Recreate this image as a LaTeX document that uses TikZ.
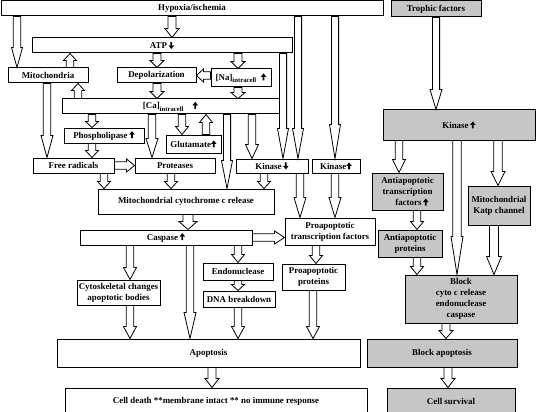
\documentclass[tikz,border=0pt]{standalone}
\usepackage{fontspec}
\setmainfont{Liberation Serif}
\usetikzlibrary{calc}
\definecolor{boxgrey}{RGB}{198,198,198}
\newcommand\uparr{\tikz[baseline=0pt,x=1pt,y=1pt]\fill (-0.9,0)--(-0.9,3.6)--(-2.8,3.4)--(0,7)--(2.8,3.4)--(0.9,3.6)--(0.9,0)--cycle;}
\newcommand\dnarr{\tikz[baseline=0pt,x=1pt,y=1pt]\fill (-0.9,7)--(-0.9,3.4)--(-2.8,3.6)--(0,0)--(2.8,3.6)--(0.9,3.4)--(0.9,7)--cycle;}
\newcommand\subtx[1]{\raisebox{-2.3pt}{\fontsize{6.7}{7}\selectfont #1}}
\tikzset{
  box/.style={draw, line width=1pt, fill=white, inner sep=0pt, align=center,
    font=\fontsize{8.9}{11}\selectfont\bfseries},
  gbox/.style={box, fill=boxgrey},
  barr/.style={draw, line width=0.8pt, fill=white, line join=miter}
}
% \bx[opt]{name}{x1}{y1}{x2}{y2}{text}
\newcommand\bx[7][]{\node[box,#1,minimum width={#5-#3},minimum height={#6-#4}] (#2) at ({(#3+#5)/2},{(#4+#6)/2}) {#7};}
% \barrow{start}{end}{head length}{head half width}{shaft half width}
\newcommand\barrow[5]{%
  \coordinate (baS) at #1; \coordinate (baE) at #2;
  \coordinate (baH) at ($(baE)!#3pt!(baS)$);
  \draw[barr] ($(baS)!#5pt!90:(baE)$) -- ($(baH)!#5pt!-90:(baS)$) -- ($(baH)!#4pt!-90:(baS)$) -- (baE) -- ($(baH)!#4pt!90:(baS)$) -- ($(baH)!#5pt!90:(baS)$) -- ($(baS)!#5pt!-90:(baE)$) -- cycle;}
\begin{document}
\begin{tikzpicture}[x=1pt,y=-1pt]
\useasboundingbox[fill=white] (0,0) rectangle (536,412);
% left column boxes
\bx{hyp}{1}{1}{383}{16}{Hypoxia/ischemia}
\bx{atp}{32}{38}{292}{53}{ATP\,\dnarr}
\bx{mito}{8}{68}{88}{83}{Mitochondria}
\bx{dep}{117}{68}{196}{83}{Depolarization}
\bx{na}{211}{69}{271}{87}{[Na]\subtx{intracell}\ \ \uparr}
\bx{ca}{62}{99}{279}{114}{[Ca]\subtx{intracell}\quad\uparr}
\bx{phos}{64}{128}{144}{143}{Phospholipase\,\uparr}
\bx{glut}{166}{135}{221}{153}{Glutamate\uparr}
\bx{fr}{33}{158}{114}{173}{Free radicals}
\bx{prot}{135}{158}{215}{173}{Proteases}
\bx{kd}{236}{159}{308}{173}{Kinase\,\dnarr}
\bx{ku}{312}{159}{360}{173}{Kinase\uparr}
\bx{mcc}{98}{189}{274}{214}{Mitochondrial cytochrome c release}
\bx{casp}{80}{230}{252}{245}{Caspase\,\uparr}
\bx{ptf}{285}{218}{375}{245}{Proapoptotic\\transcription factors}
\bx{ppro}{282}{264}{345}{290}{Proapoptotic\\proteins}
\bx{cyto}{77}{280}{160}{305}{Cytoskeletal changes\\apoptotic bodies}
\bx{endo}{203}{263}{273}{280}{Endonuclease}
\bx{dna}{203}{291}{275}{307}{DNA breakdown}
\bx{apop}{57}{339}{360}{367}{Apoptosis}
\bx{celld}{65}{388}{367}{414}{Cell death **membrane intact ** no immune response}
% right column boxes
\bx[gbox]{tro}{391}{1}{481}{17}{Trophic factors}
\bx[gbox]{kin}{383}{110}{535}{140}{Kinase\,\uparr}
\bx[gbox]{atf}{372}{173}{443}{210}{Antiapoptotic\\transcription\\\quad factors\,\uparr}
\bx[gbox]{katp}{468}{186}{530}{225}{Mitochondrial\\Katp channel}
\bx[gbox]{aprot}{378}{230}{442}{257}{Antiapoptotic\\proteins}
\bx[gbox]{block}{405}{275}{517}{323}{Block\\cyto c release\\endonuclease\\caspase}
\bx[gbox]{bapop}{367}{339}{517}{367}{Block apoptosis}
\bx[gbox]{csurv}{387}{388}{515}{414}{Cell survival}
% connectors, left
\barrow{(hyp.south -| 17,0)}{(mito.north -| 17,0)}{20}{5.5}{3.8}
\barrow{(hyp.south -| 172,0)}{(atp.north -| 172,0)}{9}{7}{4}
\barrow{(atp.south -| 157,0)}{(dep.north -| 157,0)}{7}{7}{4}
\barrow{(atp.south -| 238,0)}{(na.north -| 238,0)}{7}{7}{4}
\barrow{(mito.north -| 70,0)}{(atp.south -| 70,0)}{7}{6.5}{3.8}
\barrow{(na.west |- dep.east)}{(dep.east)}{7}{6.5}{3.8}
\barrow{(dep.south -| 157,0)}{(ca.north -| 157,0)}{7}{7}{4}
\barrow{(na.south -| 238,0)}{(ca.north -| 238,0)}{6}{7}{4}
\barrow{(ca.north -| 78,0)}{(mito.south -| 78,0)}{7}{6.5}{3.8}
\barrow{(mito.south -| 47,0)}{(fr.north -| 47,0)}{22}{6}{3.8}
\barrow{(ca.south -| 92,0)}{(phos.north -| 92,0)}{6}{6.5}{3.8}
\barrow{(phos.south -| 92,0)}{(fr.north -| 92,0)}{7}{6.5}{3.8}
\barrow{(ca.south -| 152,0)}{(prot.north -| 152,0)}{19}{6}{3.8}
\barrow{(ca.south -| 182,0)}{(glut.north -| 182,0)}{8}{6.5}{3.8}
\barrow{(glut.north -| 206,0)}{(ca.south -| 206,0)}{8}{6.5}{3.8}
\barrow{(ca.south -| 227,0)}{(mcc.north -| 227,0)}{28}{5.5}{3.6}
\barrow{(ca.south -| 252,0)}{(kd.north -| 252,0)}{14}{6.5}{3.8}
\barrow{(atp.south -| 283,0)}{(kd.north -| 283,0)}{30}{5.5}{3.6}
\barrow{(hyp.south -| 298,0)}{(kd.north -| 298,0)}{30}{5.5}{3.6}
\barrow{(hyp.south -| 335,0)}{(ku.north -| 335,0)}{34}{5.5}{3.6}
\barrow{(fr.east)}{(prot.west)}{8}{6.5}{3.8}
\barrow{(fr.south -| 104,0)}{(mcc.north -| 104,0)}{7}{6.5}{3.8}
\barrow{(prot.south -| 171,0)}{(mcc.north -| 171,0)}{7}{6.5}{3.8}
\barrow{(kd.south -| 264,0)}{(mcc.north -| 264,0)}{7}{6.5}{3.8}
\barrow{(kd.south -| 300,0)}{(ptf.north -| 300,0)}{20}{6}{3.8}
\barrow{(ku.south -| 335,0)}{(ptf.north -| 335,0)}{20}{6}{3.8}
\barrow{(mcc.south -| 188,0)}{(casp.north -| 188,0)}{8}{9}{5}
\barrow{(casp.east)}{(casp.east -| ptf.west)}{10}{6.5}{3.8}
\barrow{(casp.south -| 130,0)}{(cyto.north -| 130,0)}{12}{6.5}{3.8}
\barrow{(casp.south -| 190,0)}{(apop.north -| 190,0)}{26}{6}{3.8}
\barrow{(casp.south -| 238,0)}{(endo.north -| 238,0)}{8}{6.5}{3.8}
\barrow{(endo.south -| 238,0)}{(dna.north -| 238,0)}{6}{6.5}{3.8}
\barrow{(cyto.south -| 130,0)}{(apop.north -| 130,0)}{12}{6.5}{3.8}
\barrow{(dna.south -| 238,0)}{(apop.north -| 238,0)}{12}{6.5}{3.8}
\barrow{(ptf.south -| 316,0)}{(ppro.north -| 316,0)}{8}{6.5}{3.8}
\barrow{(ppro.south -| 313,0)}{(apop.north -| 313,0)}{12}{6.5}{3.8}
\barrow{(apop.south -| 212,0)}{(celld.north -| 212,0)}{9}{7}{4}
% connectors, right
\barrow{(tro.south -| 436,0)}{(kin.north -| 436,0)}{20}{6}{3.6}
\barrow{(kin.south -| 399,0)}{(atf.north -| 399,0)}{13}{6.5}{3.8}
\barrow{(kin.south -| 457,0)}{(block.north -| 457,0)}{38}{6}{4.2}
\barrow{(kin.south -| 498,0)}{(katp.north -| 498,0)}{14}{7}{4.2}
\barrow{(atf.south -| 417,0)}{(aprot.north -| 417,0)}{8}{6.5}{3.8}
\barrow{(aprot.south -| 417,0)}{(block.north -| 417,0)}{8}{6.5}{3.8}
\barrow{(katp.south -| 494,0)}{(block.north -| 494,0)}{18}{7.5}{4.5}
\barrow{(block.south -| 446,0)}{(bapop.north -| 446,0)}{8}{7}{4}
\barrow{(bapop.south -| 448,0)}{(csurv.north -| 448,0)}{9}{7}{4}
\end{tikzpicture}
\end{document}
